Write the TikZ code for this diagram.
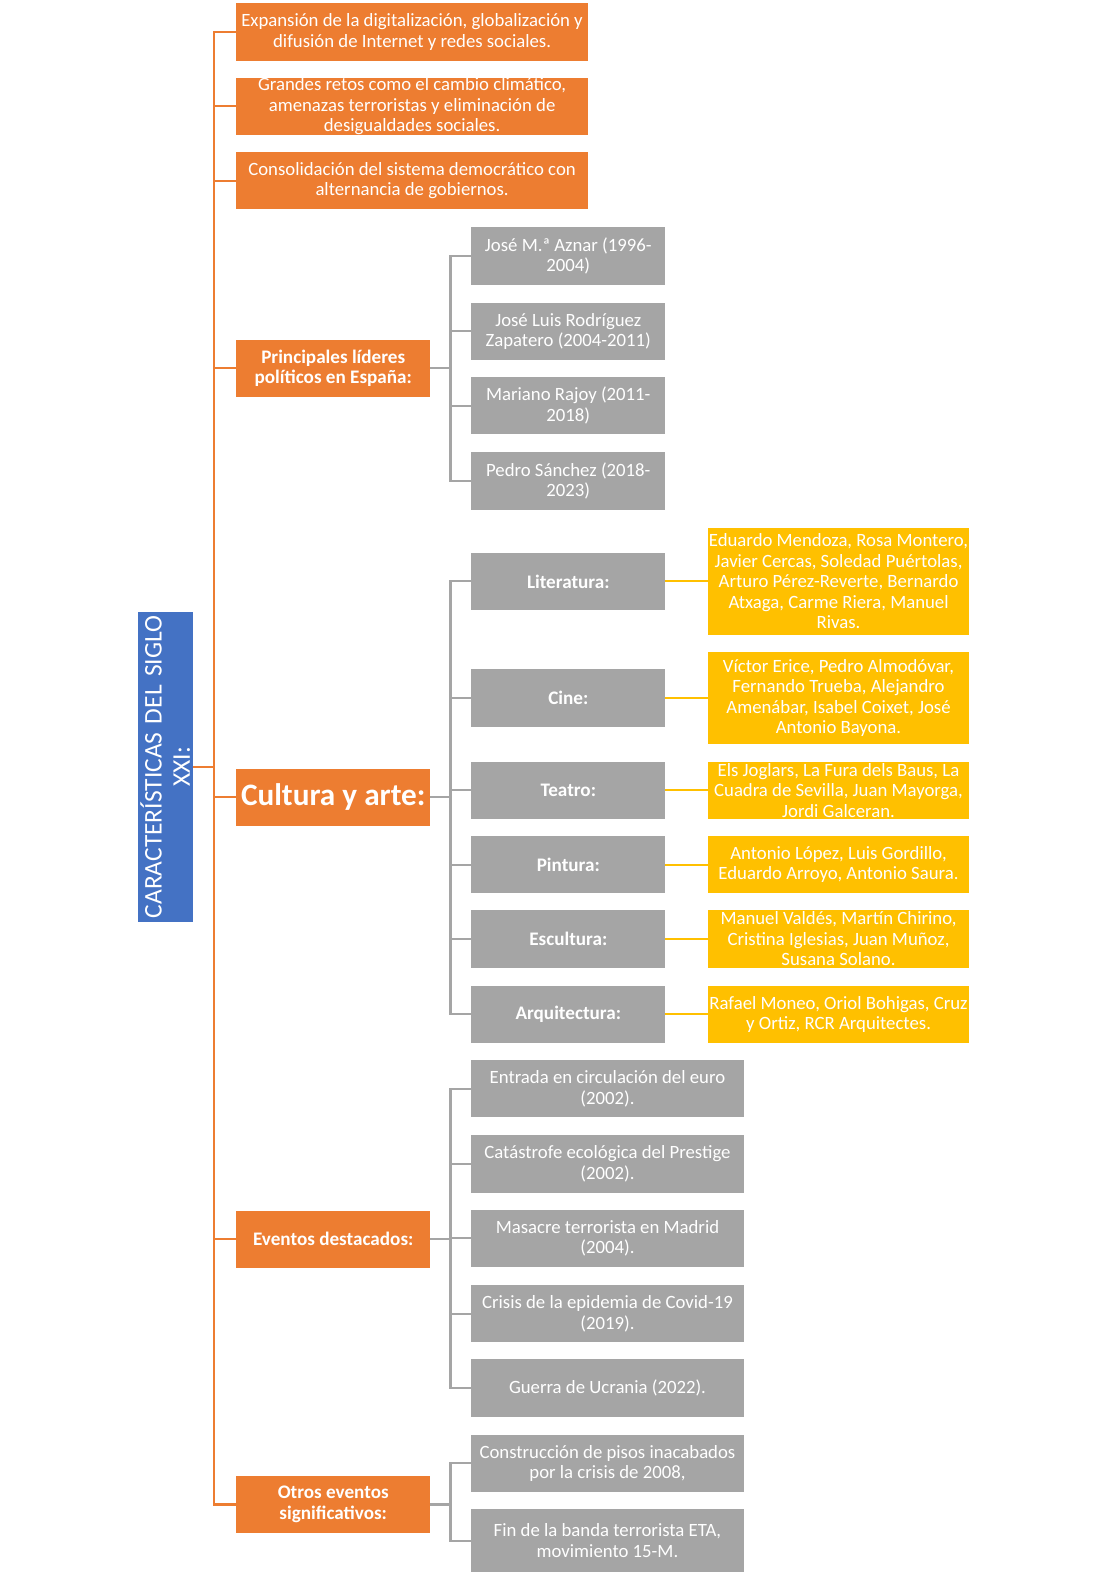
\documentclass[tikz,border=0pt]{standalone}
\usepackage{fontspec}
\setmainfont{Carlito}
\usetikzlibrary{positioning}
\definecolor{OrangeClr}{HTML}{ED7D31}
\definecolor{GrayClr}{HTML}{A5A5A5}
\definecolor{GoldClr}{HTML}{FFC000}
\definecolor{BlueClr}{HTML}{4472C4}

\begin{document}
\begin{tikzpicture}[x=0.75pt,y=-0.75pt,
  box/.style={anchor=north west,inner sep=0pt,align=center,text=white,
    font=\fontsize{14}{15.3}\selectfont,minimum height=42.75pt},
  obox/.style={box,fill=OrangeClr,minimum width=262.5pt},
  ohead/.style={box,fill=OrangeClr,minimum width=144.75pt,font=\fontsize{14.3}{15.3}\selectfont\bfseries},
  gbox/.style={box,fill=GrayClr,minimum width=144.75pt},
  ghead/.style={gbox,font=\fontsize{14.3}{15.3}\selectfont\bfseries},
  wbox/.style={box,fill=GrayClr,minimum width=203.25pt},
  ybox/.style={box,fill=GoldClr,minimum width=195pt},
  oline/.style={draw=OrangeClr,line width=1.6pt},
  gline/.style={draw=GrayClr,line width=1.6pt},
  yline/.style={draw=GoldClr,line width=1.6pt}]
\useasboundingbox (0,0) rectangle (1101,1568);

% root
\node[fill=BlueClr,text=white,rotate=90,inner sep=0pt,minimum width=231.75pt,
  minimum height=41.25pt,text width=231.75pt,align=center,
  font=\fontsize{19}{21}\selectfont] (root) at (164.5,763.5)
  {CARACTERÍSTICAS DEL SIGLO\\XXI:};

% first level
\node[obox] (o1) at (235,3) {Expansión de la digitalización, globalización y\\difusión de Internet y redes sociales.};
\node[obox] (o2) at (235,77) {Grandes retos como el cambio climático,\\amenazas terroristas y eliminación de\\desigualdades sociales.};
\node[obox] (o3) at (235,151) {Consolidación del sistema democrático con\\alternancia de gobiernos.};
\node[ohead] (lid) at (235,338) {Principales líderes\\políticos en España:};
\node[ohead,font=\fontsize{23.3}{26}\selectfont\bfseries] (cul) at (235,765) {Cultura y arte:};
\node[ohead] (eve) at (235,1205) {Eventos destacados:};
\node[ohead] (otr) at (235,1469) {Otros eventos\\significativos:};

% leaders
\node[gbox] (l1) at (469,226) {José M.ª Aznar (1996-\\2004)};
\node[gbox] (l2) at (469,301) {José Luis Rodríguez\\Zapatero (2004-2011)};
\node[gbox] (l3) at (469,375) {Mariano Rajoy (2011-\\2018)};
\node[gbox] (l4) at (469,450) {Pedro Sánchez (2018-\\2023)};

% culture
\node[ghead] (c1) at (469,550) {Literatura:};
\node[ghead] (c2) at (469,666) {Cine:};
\node[ghead] (c3) at (469,758) {Teatro:};
\node[ghead] (c4) at (469,832) {Pintura:};
\node[ghead] (c5) at (469,906) {Escultura:};
\node[ghead] (c6) at (469,981) {Arquitectura:};

\node[ybox,minimum height=80.25pt,right=31.5pt of c1] (y1) {Eduardo Mendoza, Rosa Montero,\\Javier Cercas, Soledad Puértolas,\\Arturo Pérez-Reverte, Bernardo\\Atxaga, Carme Riera, Manuel\\Rivas.};
\node[ybox,minimum height=68.25pt,right=31.5pt of c2] (y2) {Víctor Erice, Pedro Almodóvar,\\Fernando Trueba, Alejandro\\Amenábar, Isabel Coixet, José\\Antonio Bayona.};
\node[ybox,right=31.5pt of c3] (y3) {Els Joglars, La Fura dels Baus, La\\Cuadra de Sevilla, Juan Mayorga,\\Jordi Galceran.};
\node[ybox,right=31.5pt of c4] (y4) {Antonio López, Luis Gordillo,\\Eduardo Arroyo, Antonio Saura.};
\node[ybox,right=31.5pt of c5] (y5) {Manuel Valdés, Martín Chirino,\\Cristina Iglesias, Juan Muñoz,\\Susana Solano.};
\node[ybox,right=31.5pt of c6] (y6) {Rafael Moneo, Oriol Bohigas, Cruz\\y Ortiz, RCR Arquitectes.};

% events
\node[wbox] (e1) at (469,1055) {Entrada en circulación del euro\\(2002).};
\node[wbox] (e2) at (469,1130) {Catástrofe ecológica del Prestige\\(2002).};
\node[wbox] (e3) at (469,1204) {Masacre terrorista en Madrid\\(2004).};
\node[wbox] (e4) at (469,1279) {Crisis de la epidemia de Covid-19\\(2019).};
\node[wbox] (e5) at (469,1353) {Guerra de Ucrania (2022).};

\node[wbox] (s1) at (469,1428) {Construcción de pisos inacabados\\por la crisis de 2008,};
\node[wbox,minimum height=47.25pt] (s2) at (469,1502) {Fin de la banda terrorista ETA,\\movimiento 15-M.};

% connectors
\coordinate (tk) at (213,763.5);
\draw[oline] (root.south) -- (tk);
\foreach \n in {o1,o2,o3,lid,cul,eve,otr}
  \draw[oline] (tk) |- (\n.west);

\path (lid.east) ++(20,0) coordinate (lj);
\path (cul.east) ++(20,0) coordinate (cj);
\path (eve.east) ++(20,0) coordinate (ej);
\path (otr.east) ++(20,0) coordinate (sj);
\draw[gline] (lid.east) -- (lj);
\draw[gline] (cul.east) -- (cj);
\draw[gline] (eve.east) -- (ej);
\draw[gline] (otr.east) -- (sj);
\foreach \n in {l1,l2,l3,l4}
  \draw[gline] (lj) |- (\n.west);
\foreach \n in {c1,c2,c3,c4,c5,c6}
  \draw[gline] (cj) |- (\n.west);
\foreach \n in {e1,e2,e3,e4,e5}
  \draw[gline] (ej) |- (\n.west);
\foreach \n in {s1,s2}
  \draw[gline] (sj) |- (\n.west);

\foreach \a/\b in {c1/y1,c2/y2,c3/y3,c4/y4,c5/y5,c6/y6}
  \draw[yline] (\a.east) -- (\b.west);

\end{tikzpicture}
\end{document}
